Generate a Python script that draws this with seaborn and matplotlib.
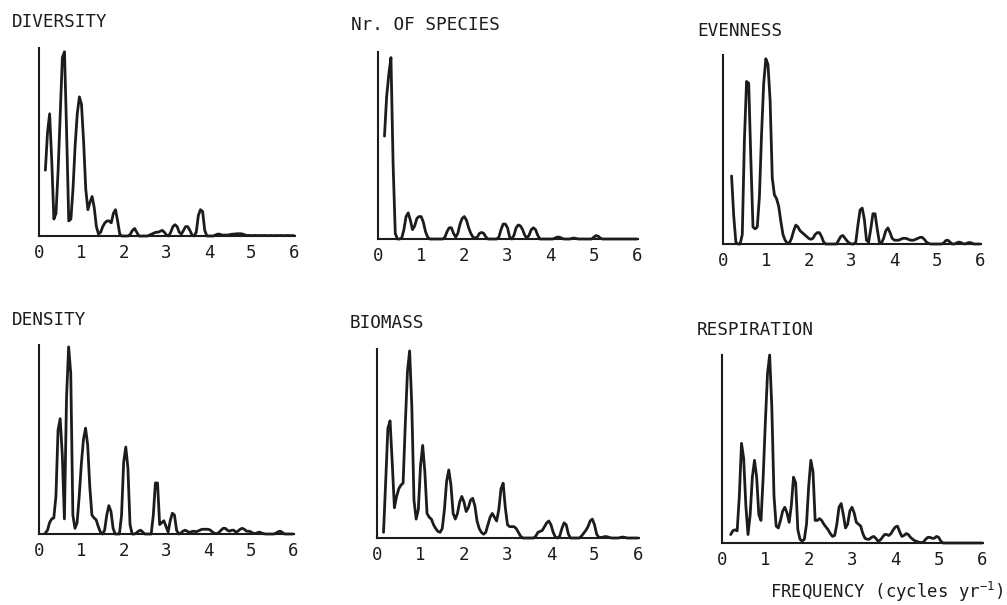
import numpy as np
import pandas as pd
import matplotlib
matplotlib.use("Agg")
import matplotlib.pyplot as plt
import seaborn as sns

# Frequency grid of the spectral estimates (cycles per year)
freq = np.round(np.arange(0.15, 6.0001, 0.05), 2)

# Relative spectral density of each community property (peak = 1)
diversity = [
    0.35, 0.55, 0.65, 0.40, 0.09, 0.12, 0.35, 0.65, 0.95, 0.98,
    0.55, 0.08, 0.09, 0.25, 0.48, 0.65, 0.74, 0.70, 0.50, 0.25,
    0.14, 0.18, 0.21, 0.15, 0.05, 0.01, 0.02, 0.05, 0.07, 0.08,
    0.08, 0.07, 0.12, 0.14, 0.08, 0.01, 0.0, 0.0, 0.0, 0.0,
    0.01, 0.03, 0.04, 0.02, 0.0, 0.0, 0.0, 0.0, 0.0, 0.005,
    0.01, 0.015, 0.02, 0.02, 0.025, 0.03, 0.02, 0.005, 0.0, 0.02,
    0.05, 0.06, 0.05, 0.02, 0.01, 0.03, 0.05, 0.05, 0.03, 0.005,
    0.0, 0.02, 0.11, 0.14, 0.13, 0.03, 0.0, 0.0, 0.0, 0.0,
    0.005, 0.01, 0.01, 0.005, 0.005, 0.005, 0.005, 0.008, 0.01, 0.01,
    0.012, 0.012, 0.012, 0.01, 0.005, 0.003, 0.003, 0.002, 0.003, 0.003,
    0.002, 0.003, 0.002, 0.003, 0.002, 0.002, 0.003, 0.002, 0.002, 0.003,
    0.002, 0.003, 0.002, 0.002, 0.003, 0.002, 0.002, 0.002,
]

n_species = [
    0.55, 0.76, 0.88, 0.97, 0.40, 0.03, 0.0, 0.0, 0.005, 0.05,
    0.12, 0.14, 0.10, 0.05, 0.07, 0.11, 0.12, 0.12, 0.09, 0.04,
    0.01, 0.0, 0.0, 0.0, 0.0, 0.0, 0.0, 0.0, 0.01, 0.04,
    0.06, 0.06, 0.03, 0.01, 0.03, 0.08, 0.11, 0.12, 0.10, 0.06,
    0.03, 0.01, 0.005, 0.01, 0.03, 0.035, 0.03, 0.01, 0.0, 0.0,
    0.0, 0.0, 0.0, 0.01, 0.05, 0.08, 0.08, 0.06, 0.01, 0.0,
    0.02, 0.06, 0.075, 0.07, 0.05, 0.02, 0.005, 0.02, 0.05, 0.06,
    0.05, 0.02, 0.0, 0.0, 0.0, 0.0, 0.0, 0.0, 0.0, 0.005,
    0.01, 0.01, 0.005, 0.0, 0.0, 0.0, 0.0, 0.004, 0.005, 0.002,
    0.0, 0.0, 0.0, 0.0, 0.0, 0.0, 0.0, 0.01, 0.018, 0.015,
    0.005, 0.0, 0.0, 0.0, 0.0, 0.0, 0.0, 0.0, 0.0, 0.0,
    0.0, 0.0, 0.0, 0.0, 0.0, 0.0, 0.0, 0.0,
]

evenness = [
    np.nan, 0.36, 0.15, 0.01, 0.0, 0.0, 0.05, 0.55, 0.86, 0.85,
    0.45, 0.09, 0.08, 0.09, 0.25, 0.58, 0.85, 0.98, 0.95, 0.76,
    0.35, 0.26, 0.24, 0.20, 0.12, 0.05, 0.02, 0.005, 0.005, 0.03,
    0.07, 0.10, 0.09, 0.07, 0.06, 0.05, 0.04, 0.03, 0.025, 0.03,
    0.05, 0.06, 0.06, 0.04, 0.01, 0.0, 0.0, 0.0, 0.0, 0.0,
    0.0, 0.02, 0.04, 0.045, 0.03, 0.015, 0.005, 0.0, 0.0, 0.01,
    0.10, 0.18, 0.19, 0.13, 0.02, 0.01, 0.08, 0.16, 0.16, 0.08,
    0.01, 0.005, 0.03, 0.07, 0.085, 0.06, 0.03, 0.02, 0.02, 0.02,
    0.025, 0.03, 0.03, 0.028, 0.022, 0.02, 0.02, 0.025, 0.03, 0.035,
    0.035, 0.025, 0.01, 0.003, 0.0, 0.0, 0.0, 0.0, 0.0, 0.0,
    0.005, 0.018, 0.02, 0.01, 0.0, 0.0, 0.005, 0.01, 0.008, 0.002,
    0.0, 0.005, 0.008, 0.006, 0.0, 0.0, 0.0, 0.0,
]

density = [
    0.005, 0.02, 0.06, 0.08, 0.085, 0.20, 0.55, 0.61, 0.42, 0.08,
    0.72, 0.99, 0.85, 0.10, 0.03, 0.06, 0.20, 0.37, 0.50, 0.56,
    0.47, 0.25, 0.10, 0.085, 0.075, 0.04, 0.01, 0.0, 0.02, 0.10,
    0.15, 0.12, 0.03, 0.0, 0.0, 0.0, 0.10, 0.38, 0.46, 0.35,
    0.05, 0.0, 0.0, 0.005, 0.015, 0.02, 0.01, 0.0, 0.0, 0.0,
    0.0, 0.10, 0.27, 0.27, 0.05, 0.06, 0.07, 0.04, 0.01, 0.07,
    0.11, 0.10, 0.02, 0.0, 0.005, 0.015, 0.02, 0.015, 0.008, 0.012,
    0.015, 0.012, 0.015, 0.02, 0.025, 0.025, 0.025, 0.025, 0.02, 0.01,
    0.003, 0.002, 0.008, 0.02, 0.03, 0.03, 0.02, 0.015, 0.02, 0.02,
    0.01, 0.015, 0.025, 0.03, 0.025, 0.015, 0.015, 0.012, 0.005, 0.002,
    0.006, 0.01, 0.006, 0.002, 0.0, 0.0, 0.0, 0.0, 0.0, 0.005,
    0.012, 0.015, 0.008, 0.0, 0.0, 0.0, 0.0, 0.0,
]

biomass = [
    0.03, 0.30, 0.58, 0.62, 0.40, 0.16, 0.22, 0.26, 0.28, 0.29,
    0.60, 0.88, 0.99, 0.70, 0.20, 0.10, 0.15, 0.38, 0.49, 0.35,
    0.13, 0.11, 0.10, 0.07, 0.05, 0.035, 0.03, 0.05, 0.15, 0.30,
    0.36, 0.28, 0.13, 0.10, 0.13, 0.19, 0.22, 0.19, 0.14, 0.16,
    0.20, 0.21, 0.17, 0.09, 0.05, 0.03, 0.02, 0.03, 0.07, 0.11,
    0.13, 0.11, 0.09, 0.15, 0.26, 0.29, 0.16, 0.07, 0.06, 0.06,
    0.06, 0.05, 0.03, 0.01, 0.0, 0.0, 0.0, 0.0, 0.0, 0.0,
    0.01, 0.03, 0.035, 0.04, 0.06, 0.08, 0.09, 0.07, 0.03, 0.005,
    0.0, 0.01, 0.05, 0.08, 0.07, 0.02, 0.0, 0.0, 0.0, 0.0,
    0.0, 0.01, 0.025, 0.04, 0.06, 0.09, 0.10, 0.07, 0.02, 0.003,
    0.003, 0.005, 0.008, 0.006, 0.002, 0.0, 0.0, 0.0, 0.0, 0.003,
    0.005, 0.003, 0.0, 0.0, 0.0, 0.0, 0.0, 0.0,
]

respiration = [
    np.nan, 0.045, 0.065, 0.07, 0.065, 0.25, 0.53, 0.45, 0.20, 0.045,
    0.15, 0.35, 0.44, 0.35, 0.15, 0.12, 0.35, 0.64, 0.90, 1.0,
    0.72, 0.25, 0.09, 0.08, 0.12, 0.17, 0.19, 0.16, 0.11, 0.20,
    0.35, 0.32, 0.07, 0.02, 0.01, 0.02, 0.10, 0.30, 0.44, 0.38,
    0.12, 0.12, 0.13, 0.12, 0.10, 0.085, 0.07, 0.05, 0.035, 0.04,
    0.10, 0.19, 0.21, 0.15, 0.08, 0.10, 0.17, 0.19, 0.16, 0.11,
    0.10, 0.09, 0.05, 0.025, 0.02, 0.02, 0.03, 0.035, 0.025, 0.01,
    0.015, 0.03, 0.045, 0.045, 0.04, 0.05, 0.07, 0.085, 0.09, 0.06,
    0.035, 0.04, 0.05, 0.045, 0.03, 0.02, 0.012, 0.008, 0.004, 0.002,
    0.005, 0.02, 0.03, 0.03, 0.025, 0.025, 0.035, 0.03, 0.01, 0.0,
    0.0, 0.0, 0.0, 0.0, 0.0, 0.0, 0.0, 0.0, 0.0, 0.0,
    0.0, 0.0, 0.0, 0.0, 0.0, 0.0, 0.0, 0.0,
]

titles = ["DIVERSITY", "Nr. OF SPECIES", "EVENNESS",
          "DENSITY", "BIOMASS", "RESPIRATION"]
series = [diversity, n_species, evenness, density, biomass, respiration]
x_ticks = [0, 1, 2, 3, 4, 5, 6]
x_label = r"FREQUENCY (cycles yr$^{-1}$)"

sns.set_theme(style="white")
plt.rcParams["font.family"] = ["DejaVu Sans Mono"]
plt.rcParams["mathtext.fontset"] = "custom"
plt.rcParams["mathtext.rm"] = "DejaVu Sans Mono"
plt.rcParams["mathtext.default"] = "rm"

INK = "#1c1c1c"
W, H = 1007, 605
fig = plt.figure(figsize=(W / 100, H / 100), dpi=100, facecolor="white")

# panel frames in pixels: (x of 0, x of 6, baseline y, top y) and title anchor
frames = [
    (39, 294, 236, 48, (12, 22)),
    (378, 637, 239, 52, (351, 25)),
    (723, 980, 244, 55, (697, 31)),
    (39, 293, 534, 345, (12, 320)),
    (377, 638, 538, 349, (350, 323)),
    (722, 982, 543, 355, (697, 330)),
]
XMAX = 6.03

for (x0, x6, base, top, (tx, ty)), title, vals in zip(frames, titles, series):
    w_px = (x6 - x0) * XMAX / 6
    ax = fig.add_axes([x0 / W, 1 - base / H, w_px / W, (base - top) / H])
    df = pd.DataFrame({"freq": freq, "power": vals}).dropna()
    sns.lineplot(data=df, x="freq", y="power", ax=ax, color=INK,
                 linewidth=2.0, clip_on=False)
    ax.set_xlim(0, XMAX)
    ax.set_ylim(0, 1.0)
    ax.set_xlabel("")
    ax.set_ylabel("")
    ax.set_xticks(x_ticks)
    ax.set_xticklabels([str(t) for t in x_ticks], fontsize=12.5, color=INK)
    ax.set_yticks([0.2, 0.4, 0.6, 0.8, 1.0])
    ax.set_yticklabels([])
    ax.tick_params(axis="x", direction="in", length=2.5, width=1.0,
                   pad=6, colors=INK, labelcolor=INK)
    ax.tick_params(axis="y", direction="in", length=2.5, width=1.0, colors=INK)
    for side in ("top", "right"):
        ax.spines[side].set_visible(False)
    for side in ("left", "bottom"):
        ax.spines[side].set_color(INK)
        ax.spines[side].set_linewidth(1.5)
    ax.patch.set_alpha(0)
    fig.text(tx / W, 1 - ty / H, title, fontsize=12.7, color=INK,
             ha="left", va="center")

fig.text(1003 / W, 1 - 592 / H, x_label, fontsize=12.5, color=INK,
         ha="right", va="center")

fig.savefig("out.png", dpi=100, facecolor="white")
